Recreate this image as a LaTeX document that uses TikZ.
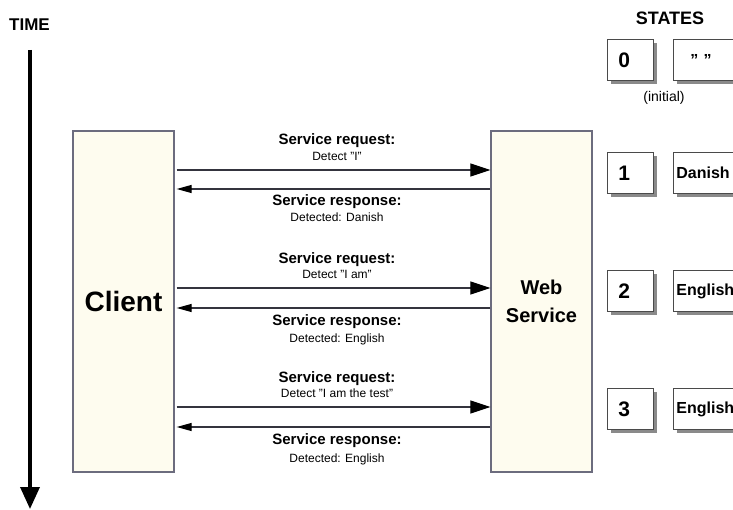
\documentclass[tikz,border=0pt]{standalone}
\usepackage{fontspec}
\setmainfont{Liberation Sans}
\usetikzlibrary{arrows.meta,shadows}

\definecolor{boxfill}{HTML}{FEFCEF}
\definecolor{boxline}{HTML}{6C6C7E}
\definecolor{msgline}{HTML}{34343E}
\definecolor{shadowgray}{HTML}{8A8A8A}
\definecolor{stateline}{HTML}{4A4A4A}

\newcommand\fsz[2]{\fontsize{#1}{#2}\selectfont}
% straight ASCII double quote
\newcommand\dq{\symbol{34}}

\begin{document}
\begin{tikzpicture}[x=1pt,y=-1pt,
  party/.style={draw=boxline, line width=1.3pt, fill=boxfill,
    minimum width=101pt, minimum height=341pt, inner sep=0pt,
    font=\bfseries\fsz{28}{32}, align=center},
  request/.style={draw=msgline, line width=1.1pt,
    -{Triangle[length=20pt,width=13pt,color=black]}, shorten <=2pt},
  response/.style={draw=msgline, line width=1.1pt,
    -{Triangle[length=15pt,width=8pt,color=black]}, shorten >=2pt},
  msgtitle/.style={font=\bfseries\fsz{15}{18}, inner sep=0pt},
  msgtext/.style={font=\fsz{12}{14}, inner sep=0pt},
  numbox/.style={draw=stateline, line width=0.8pt, fill=white,
    drop shadow={shadow xshift=3.5pt, shadow yshift=-3.5pt,
      fill=shadowgray, opacity=1},
    minimum height=41pt, text width=24pt, inner xsep=11pt, align=left,
    font=\bfseries\fsz{21}{24}, anchor=west},
  valbox/.style={numbox, text width=76pt, inner xsep=3pt,
    font=\bfseries\fsz{16}{18}},
]
\useasboundingbox (0,0) rectangle (733,510);
\clip (0,0) rectangle (733,510);

% time axis
\node[font=\bfseries\fsz{17}{20}, anchor=west, inner sep=0pt] (time) at (9,25) {TIME};
\coordinate (tstart) at (30,50);
\coordinate (tend) at (30,509);
\draw[line width=3.5pt, -{Triangle[length=22pt,width=19pt]}] (tstart) -- (tend);

% the two parties
\node[party] (client) at (123.5,301.5) {Client};
\node[party, font=\bfseries\fsz{20}{28}] (ws) at (541.5,301.5) {Web\\Service};

% message heights
\coordinate (q1) at (0,170);
\coordinate (p1) at (0,189);
\coordinate (q2) at (0,288);
\coordinate (p2) at (0,308);
\coordinate (q3) at (0,407);
\coordinate (p3) at (0,427);

% exchange 1
\node[msgtitle] (rq1) at (337,141) {Service request:};
\node[msgtext]  (rd1) at (337,156) {Detect \dq I\dq};
\draw[request]  (client.east |- q1) -- (ws.west |- q1);
\draw[response] (ws.west |- p1) -- (client.east |- p1);
\node[msgtitle] (rs1) at (337,202) {Service response:};
\node[msgtext]  (rt1) at (337,217) {Detected: Danish};

% exchange 2
\node[msgtitle] (rq2) at (337,260) {Service request:};
\node[msgtext]  (rd2) at (337,274) {Detect \dq I am\dq};
\draw[request]  (client.east |- q2) -- (ws.west |- q2);
\draw[response] (ws.west |- p2) -- (client.east |- p2);
\node[msgtitle] (rs2) at (337,322) {Service response:};
\node[msgtext]  (rt2) at (337,339) {Detected: English};

% exchange 3
\node[msgtitle] (rq3) at (337,379) {Service request:};
\node[msgtext]  (rd3) at (337,393) {Detect \dq I am the test\dq};
\draw[request]  (client.east |- q3) -- (ws.west |- q3);
\draw[response] (ws.west |- p3) -- (client.east |- p3);
\node[msgtitle] (rs3) at (337,441) {Service response:};
\node[msgtext]  (rt3) at (337,459) {Detected: English};

% state column
\node[font=\bfseries\fsz{18}{20}] (states) at (670,18) {STATES};
\node[numbox] (n0) at (607,60) {0};
\node[valbox] (v0) at (673,60) {\hspace*{14pt}\dq\ \dq};
\node[font=\fsz{14}{16}] (init) at (664,98) {(initial)};
\node[numbox] (n1) at (607,173) {1};
\node[valbox] (v1) at (673,173) {Danish};
\node[numbox] (n2) at (607,291) {2};
\node[valbox] (v2) at (673,291) {English};
\node[numbox] (n3) at (607,409) {3};
\node[valbox] (v3) at (673,409) {English};
\end{tikzpicture}
\end{document}
